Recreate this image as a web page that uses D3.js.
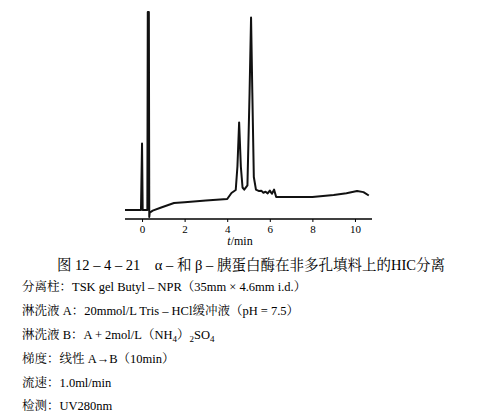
<!DOCTYPE html>
<html><head><meta charset="utf-8">
<script src="https://cdn.jsdelivr.net/npm/d3@7"></script>
<style>body{margin:0;background:#fff}svg{font-family:"Liberation Serif","Noto Serif CJK SC","Noto Sans CJK SC",serif}</style>
</head><body><svg id="c" width="482" height="414"></svg>
<script>
const times = [-0.8,-0.05,0.0,0.03,0.05,0.25,0.27,0.32,0.34,0.36,0.5,0.9,1.5,2,3,4,4.2,4.4,4.48,4.56,4.64,4.72,4.8,4.95,5.05,5.12,5.18,5.25,5.35,5.5,5.6,5.7,5.8,5.9,6.0,6.1,6.2,6.3,6.5,7,8,9,9.6,10.1,10.4,10.65];
const signal = [4.3,4.3,36,4.3,4.3,4.3,98.6,98.6,1,3,4,5.5,7.6,8,8.8,9.5,12.4,13.8,25,46,25,15,14,16,60,96,60,20,14,13.3,13.5,12.5,13,12.2,13.5,12,14,10.5,10.5,10.5,10.5,11.4,12.3,13.3,12.8,11.2];
const xTicks = [0,2,4,6,8,10];
const caption = "图 12 – 4 – 21　α – 和 β – 胰蛋白酶在非多孔填料上的HIC分离";
const notes = ["分离柱：TSK gel Butyl – NPR（35mm × 4.6mm i.d.）","淋洗液 A：20mmol/L Tris – HCl缓冲液（pH = 7.5）","淋洗液 B：A + 2mol/L（NH<sub>4</sub>）<sub>2</sub>SO<sub>4</sub>","梯度：线性 A→B（10min）","流速：1.0ml/min","检测：UV280nm"];

const svg = d3.select("#c");
const x = d3.scaleLinear().domain([-0.8,10.8]).range([125,372]);
const y = d3.scaleLinear().domain([0,100]).range([219,9]);
const g = svg.append("g").attr("transform","translate(0,219)");
g.call(d3.axisBottom(x).tickValues(xTicks).tickSize(3).tickPadding(3).tickFormat(d3.format("d")))
 .call(a=>{a.select(".domain").attr("stroke-width",1.5).attr("d",`M${x.range()[0]},0H${x.range()[1]}`);a.selectAll("text").attr("font-size",11).attr("font-family","Liberation Serif");});
svg.append("path").datum(d3.zip(times,signal)).attr("fill","none").attr("stroke","#111").attr("stroke-width",2).attr("stroke-linejoin","round")
 .attr("d",d3.line().x(d=>x(d[0])).y(d=>y(d[1])));
const xl = svg.append("text").attr("x",x(4.6)).attr("y",245).attr("text-anchor","middle").attr("font-size",12);
xl.append("tspan").attr("font-style","italic").text("t");
xl.append("tspan").text("/min");
svg.append("text").attr("x",57).attr("y",270).attr("font-size",14.5).text(caption);
const ys=[291,315,339,363,387,410];
notes.forEach((t,i)=>{
  const parts = t.split(/(<sub>.*?<\/sub>)/).filter(p=>p);
  const tx = svg.append("text").attr("x",22).attr("y",ys[i]).attr("font-size",12.5);
  let lowered=false;
  parts.forEach(p=>{
    const m=p.match(/<sub>(.*)<\/sub>/);
    if(m){tx.append("tspan").attr("font-size",9).attr("dy",lowered?0:3).text(m[1]); lowered=true;}
    else {tx.append("tspan").attr("dy",lowered?-3:0).text(p); lowered=false;}
  });
});
</script></body></html>
